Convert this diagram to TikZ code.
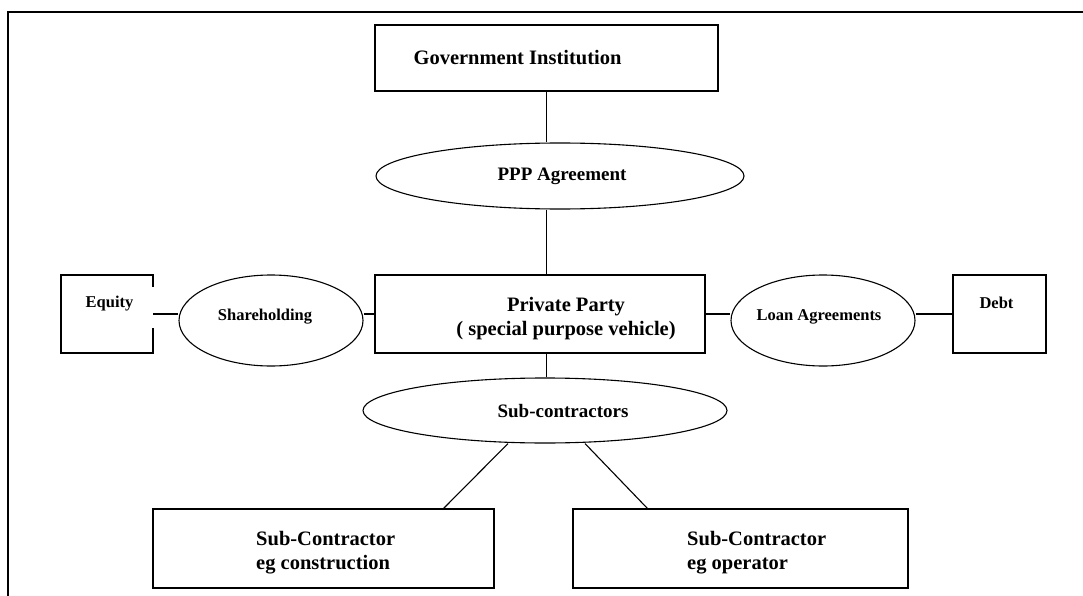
\documentclass[tikz,border=0pt]{standalone}
\usepackage{fontspec}
\setmainfont{Liberation Serif}
\usetikzlibrary{shapes.geometric,calc}

\begin{document}
\begin{tikzpicture}[x=1pt,y=-1pt,
  box/.style={draw,line width=1.6pt,inner sep=0pt},
  oval/.style={draw,ellipse,line width=1.1pt,inner sep=0pt},
  link/.style={line width=1.1pt},
  txt/.style={inner sep=0pt},
  big/.style={txt,font=\fontsize{20.5}{24}\selectfont\bfseries},
  mid/.style={txt,font=\fontsize{19}{23}\selectfont\bfseries},
  small/.style={txt,font=\fontsize{16.5}{20}\selectfont\bfseries}]
\useasboundingbox (0,0) rectangle (1083,596);

% page frame (top and left edges)
\draw[line width=2.2pt] (8,596) -- (8,12) -- (1083,12);

% main boxes and agreement ovals
\node[box,minimum width=343pt,minimum height=66pt] (gov) at (546.5,58) {};
\node[oval,minimum width=368pt,minimum height=66pt] (ppp) at (560,176) {};
\node[box,minimum width=330pt,minimum height=78pt] (pp) at (540,314) {};
\node[oval,minimum width=364pt,minimum height=65pt] (sub) at (545,410.5) {};
\node[box,minimum width=341pt,minimum height=79pt] (scl) at (323.5,548.5) {};
\node[box,minimum width=335pt,minimum height=79pt] (scr) at (740.5,548.5) {};

% funding side
\node[inner sep=0pt,minimum width=92pt,minimum height=78pt] (eq) at (107,314) {};
\node[oval,minimum width=184pt,minimum height=91pt] (sh) at (271,320.5) {};
\node[oval,minimum width=184pt,minimum height=91pt] (loan) at (823,320.5) {};
\node[box,minimum width=93pt,minimum height=78pt] (debt) at (999.5,314) {};

% equity box, open where the shareholding line enters
\draw[line width=1.6pt] ($(eq.north east)+(0,12)$) -- (eq.north east) -- (eq.north west)
  -- (eq.south west) -- (eq.south east) -- ++(0,-25);

% labels
\node[big] (govt) at (517.5,58) {Government Institution};
\node[mid] (pppt) at (562,176) {PPP Agreement};
\node[big,align=center] (ppt) at (566,319) {Private Party\\( special purpose vehicle)};
\node[mid] (subt) at (563,411) {Sub-contractors};
\node[small] (eqt) at (109.5,304) {Equity};
\node[small] (sht) at (265,317) {Shareholding};
\node[small] (loant) at (819,317) {Loan Agreements};
\node[small] (debtt) at (996.5,303) {Debt};
\node[big,align=left,anchor=west] (sclt) at (256,553) {Sub-Contractor\\eg construction};
\node[big,align=left,anchor=west] (scrt) at (687,553) {Sub-Contractor\\eg operator};

% connectors
\draw[link] (gov.south) -- (gov.south |- ppp.north);
\draw[link] (ppp.south -| gov.south) -- (pp.north -| gov.south);
\draw[link] (pp.south -| gov.south) -- (sub.north -| gov.south);
\draw[link] ($(sub.south)+(-37,0)$) -- ($(scl.north east)+(-51,0)$);
\draw[link] ($(sub.south)+(40,0)$) -- ($(scr.north west)+(75,0)$);
\draw[link] (eq.east) -- (eq.east -| sh.west);
\draw[link] (sh.east |- pp.west) -- (pp.west);
\draw[link] (pp.east) -- (pp.east -| loan.west);
\draw[link] (loan.east |- debt.west) -- (debt.west);
\end{tikzpicture}
\end{document}
